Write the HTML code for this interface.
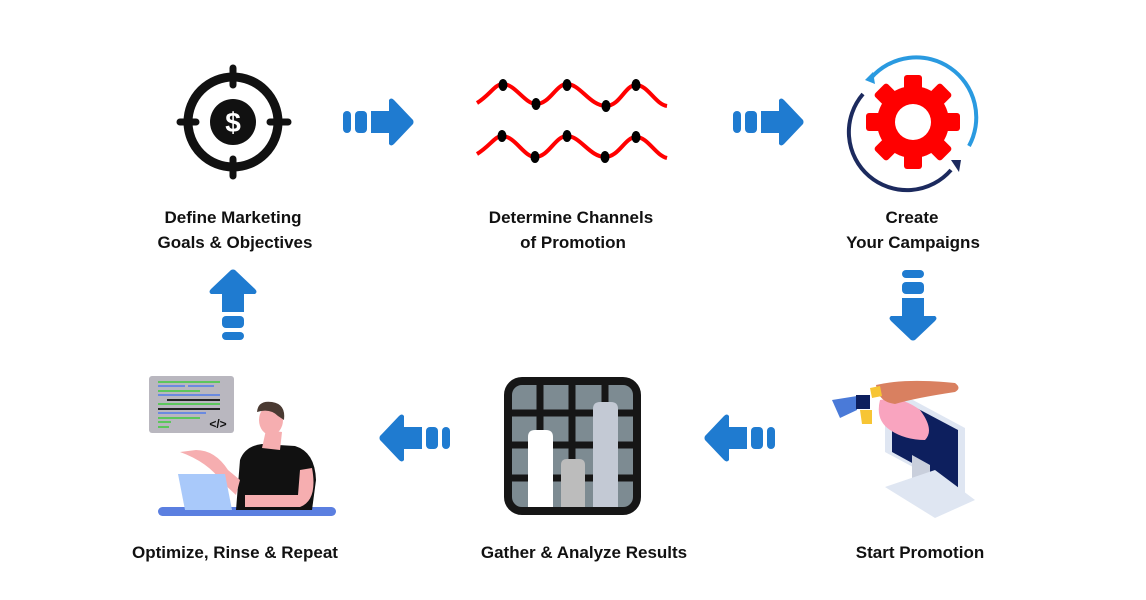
<!DOCTYPE html>
<html><head><style>
html,body{margin:0;padding:0;background:#fff;}
svg{display:block}
text{font-family:"Liberation Sans",sans-serif;font-size:17px;font-weight:bold;fill:#111;text-anchor:middle}
</style></head><body>
<svg width="1146" height="600" viewBox="0 0 1146 600">
<defs>
<g id="arrR">
<rect x="0" y="-11" width="8" height="22" rx="4" fill="#1f7bd0"/>
<rect x="12" y="-11" width="12" height="22" rx="4" fill="#1f7bd0"/>
<path d="M28,-11 H46 V-22 Q48,-25 51,-22 L70,-2 Q71,0 70,2 L51,22 Q48,25 46,22 V11 H28 Z" fill="#1f7bd0"/>
</g>
</defs>
<!-- target -->
<g stroke="#111" fill="none">
<circle cx="233" cy="122" r="45" stroke-width="9"/>
<g stroke-width="7" stroke-linecap="round"><line x1="233" y1="68" x2="233" y2="85"/><line x1="233" y1="159" x2="233" y2="176"/><line x1="180" y1="122" x2="196" y2="122"/><line x1="270" y1="122" x2="288" y2="122"/></g>
</g>
<circle cx="233" cy="122" r="23" fill="#111"/>
<text x="233" y="132" style="fill:#fff;font-size:28px">$</text>
<!-- waves -->
<g fill="none" stroke="#f00" stroke-width="4">
<path d="M477,103 C490,95 495,84 503,84 C515,84 525,104 536,104 C550,104 556,84 567,84 C580,84 590,106 606,106 C620,106 625,85 636,85 C648,85 655,104 667,106"/>
<path d="M477,154 C490,146 495,136 502,136 C515,136 524,157 535,157 C549,157 555,136 567,136 C580,136 590,157 605,157 C619,157 625,137 636,137 C648,137 655,155 667,158"/>
</g>
<g fill="#000">
<ellipse cx="503" cy="85" rx="4.5" ry="6"/><ellipse cx="536" cy="104" rx="4.5" ry="6"/><ellipse cx="567" cy="85" rx="4.5" ry="6"/><ellipse cx="606" cy="106" rx="4.5" ry="6"/><ellipse cx="636" cy="85" rx="4.5" ry="6"/>
<ellipse cx="502" cy="136" rx="4.5" ry="6"/><ellipse cx="535" cy="157" rx="4.5" ry="6"/><ellipse cx="567" cy="136" rx="4.5" ry="6"/><ellipse cx="605" cy="157" rx="4.5" ry="6"/><ellipse cx="636" cy="137" rx="4.5" ry="6"/>
</g>
<!-- gear -->
<g transform="translate(913,122)">
<circle r="36" fill="#f00"/>
<g fill="#f00">
<rect x="-9" y="-47" width="18" height="20" rx="3"/>
<rect x="-9" y="-47" width="18" height="20" rx="3" transform="rotate(45)"/>
<rect x="-9" y="-47" width="18" height="20" rx="3" transform="rotate(90)"/>
<rect x="-9" y="-47" width="18" height="20" rx="3" transform="rotate(135)"/>
<rect x="-9" y="-47" width="18" height="20" rx="3" transform="rotate(180)"/>
<rect x="-9" y="-47" width="18" height="20" rx="3" transform="rotate(225)"/>
<rect x="-9" y="-47" width="18" height="20" rx="3" transform="rotate(270)"/>
<rect x="-9" y="-47" width="18" height="20" rx="3" transform="rotate(315)"/>
</g>
<circle r="18" fill="#fff"/>
<path d="M-42,-44 A60,60 0 0 1 56,24" fill="none" stroke="#2a9ae0" stroke-width="4"/>
<path d="M-50,-28 A58,58 0 0 0 38,48" fill="none" stroke="#1c2a5e" stroke-width="4"/>
<path d="M-48,-42 L-40,-50 L-38,-38 Z" fill="#2a9ae0"/>
<path d="M38,38 L48,38 L46,50 Z" fill="#1c2a5e"/>
</g>
<!-- arrows -->
<use href="#arrR" transform="translate(343,122)"/>
<use href="#arrR" transform="translate(733,122)"/>
<use href="#arrR" transform="translate(913,270) rotate(90)"/>
<use href="#arrR" transform="translate(233,340) rotate(-90)"/>
<use href="#arrR" transform="translate(450,438) rotate(180)"/>
<use href="#arrR" transform="translate(775,438) rotate(180)"/>
<!-- labels -->
<text x="233" y="223">Define Marketing</text>
<text x="235" y="248">Goals &amp; Objectives</text>
<text x="571" y="223">Determine Channels</text>
<text x="573" y="248">of Promotion</text>
<text x="912" y="223">Create</text>
<text x="913" y="248">Your Campaigns</text>
<text x="235" y="558">Optimize, Rinse &amp; Repeat</text>
<text x="584" y="558">Gather &amp; Analyze Results</text>
<text x="920" y="558">Start Promotion</text>
<!-- chart -->
<rect x="508" y="381" width="129" height="130" rx="14" fill="#7d8b92" stroke="#161616" stroke-width="8"/>
<g stroke="#161616" stroke-width="7">
<line x1="540" y1="381" x2="540" y2="511"/><line x1="572" y1="381" x2="572" y2="511"/><line x1="605" y1="381" x2="605" y2="511"/>
<line x1="508" y1="413" x2="637" y2="413"/><line x1="508" y1="445" x2="637" y2="445"/><line x1="508" y1="478" x2="637" y2="478"/>
</g>
<path d="M528,507 V437 Q528,430 535,430 H546 Q553,430 553,437 V507 Z" fill="#fff"/>
<path d="M561,507 V465 Q561,459 567,459 H579 Q585,459 585,465 V507 Z" fill="#bcbcbc"/>
<path d="M593,507 V409 Q593,402 600,402 H611 Q618,402 618,409 V507 Z" fill="#c3c9d4"/>
<!-- coder -->
<rect x="149" y="376" width="85" height="57" rx="3" fill="#b9b7bf"/>
<g stroke-width="2">
<line x1="158" y1="382" x2="220" y2="382" stroke="#5cc65c"/>
<line x1="158" y1="386" x2="185" y2="386" stroke="#6a8ae0"/><line x1="188" y1="386" x2="214" y2="386" stroke="#6a8ae0"/>
<line x1="158" y1="391" x2="200" y2="391" stroke="#5cc65c"/>
<line x1="158" y1="395" x2="220" y2="395" stroke="#6a8ae0"/>
<line x1="167" y1="400" x2="220" y2="400" stroke="#222"/>
<line x1="158" y1="404" x2="220" y2="404" stroke="#5cc65c"/>
<line x1="158" y1="409" x2="220" y2="409" stroke="#222"/>
<line x1="158" y1="413" x2="206" y2="413" stroke="#6a8ae0"/>
<line x1="158" y1="418" x2="200" y2="418" stroke="#5cc65c"/>
<line x1="158" y1="422" x2="171" y2="422" stroke="#5cc65c"/>
<line x1="158" y1="427" x2="169" y2="427" stroke="#5cc65c"/>
</g>
<text x="218" y="428" style="font-size:12px">&lt;/&gt;</text>
<rect x="158" y="507" width="178" height="9" rx="4.5" fill="#5b7fe0"/>
<path d="M236,510 L240,460 Q245,446 262,444 L295,446 Q315,452 316,480 L312,510 Z" fill="#111"/>
<path d="M262,448 L266,430 L282,432 L280,450 Z" fill="#f6aeb0"/>
<ellipse cx="271" cy="420" rx="12" ry="15" fill="#f6aeb0"/>
<path d="M257,412 Q258,400 272,402 Q286,404 284,420 L278,416 Q270,408 257,412 Z" fill="#4a3a32"/>
<path d="M196,450 Q215,450 228,470 L240,480 L236,495 L222,482 Q208,462 180,452 Z" fill="#f6aeb0"/>
<path d="M300,470 L312,468 Q318,500 300,507 L245,507 L245,495 L298,495 Z" fill="#f6aeb0"/>
<path d="M178,474 L225,474 L232,510 L185,510 Z" fill="#a9c9fa"/>
<!-- promotion -->
<path d="M885,385 L965,428 L965,495 L885,452 Z" fill="#dfe6f2"/>
<path d="M892,395 L958,430 L958,488 L892,452 Z" fill="#0d1f5e"/>
<path d="M912,455 L930,465 L930,495 L912,485 Z" fill="#c9cfdc"/>
<path d="M885,487 L935,470 L975,500 L935,518 Z" fill="#dfe6f2"/>
<path d="M880,400 Q900,395 920,410 Q935,430 925,440 Q905,440 890,430 Q875,420 880,400 Z" fill="#f9a4bf"/>
<path d="M876,385 Q905,378 955,383 Q962,388 955,392 Q915,398 895,404 Q878,402 876,385 Z" fill="#d98060"/>
<path d="M832,400 L857,396 L857,410 L840,418 Z" fill="#4a7ad8"/>
<rect x="856" y="395" width="14" height="14" fill="#0d1f5e"/>
<path d="M860,410 L872,410 L872,424 L862,424 Z" fill="#f7c534"/>
<path d="M870,388 L880,386 L882,396 L872,398 Z" fill="#f7c534"/>
</svg>
</body></html>
